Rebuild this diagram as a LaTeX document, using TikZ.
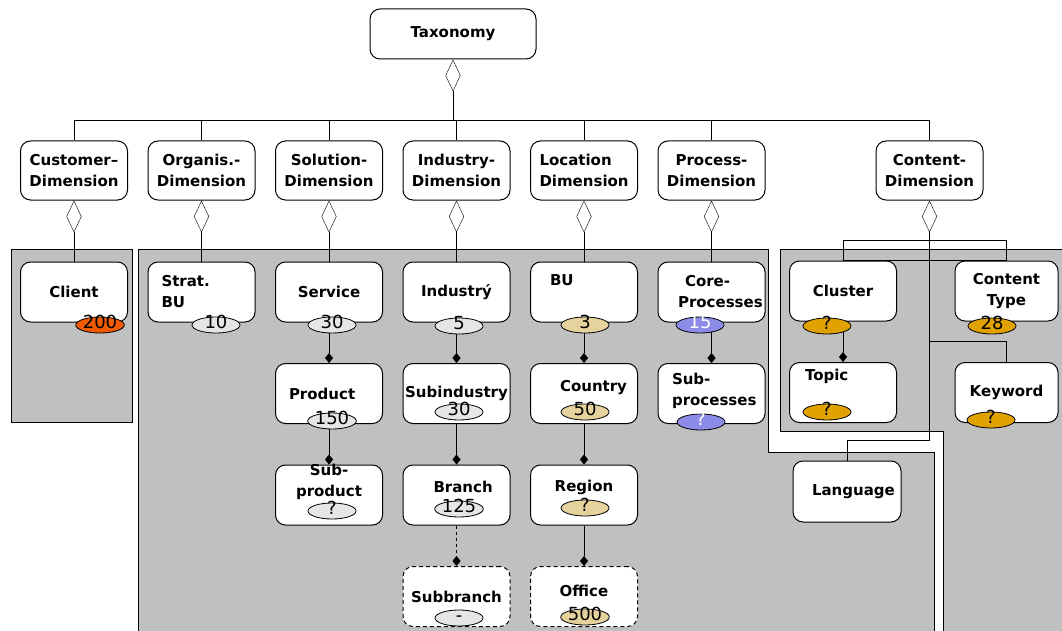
\documentclass[tikz,border=0pt]{standalone}
\usepackage{fontspec}
\setmainfont{DejaVu Sans}
\usetikzlibrary{shapes,arrows.meta}
\usetikzlibrary{positioning}
\definecolor{panelgray}{HTML}{C0C0C0}
\definecolor{cntgray}{HTML}{E6E6E6}
\definecolor{cnttan}{HTML}{E6D29C}
\definecolor{cntblue}{HTML}{8C8CE8}
\definecolor{cntgold}{HTML}{E0A200}
\definecolor{cntorange}{HTML}{F05A00}
\pgfdeclarelayer{panel}
\pgfdeclarelayer{wire}
\pgfsetlayers{panel,wire,main}
\tikzstyle{box}=[draw, fill=white, rounded corners=10pt, minimum width=107pt,
minimum height=60pt, inner sep=1pt, align=center,
font=\bfseries\fontsize{15}{21}\selectfont]
\tikzstyle{dimbox}=[box, minimum height=59pt]
\tikzstyle{vague}=[box, dash pattern=on 4pt off 3pt]
\tikzstyle{cnt}=[ellipse, draw, line width=0.8pt, minimum width=48pt, minimum height=16pt,
inner sep=0pt, text height=7pt, text depth=-7pt, font=\fontsize{18}{18}\selectfont]
\tikzstyle{agg}=[{Diamond[fill=white,length=32pt,width=15pt]}-]
\tikzstyle{comp}=[-{Diamond[length=10pt,width=8pt]}]
\tikzstyle{pane}=[draw, fill=panelgray]

\begin{document}
\begin{tikzpicture}[x=1pt, y=-1pt, line width=1pt, node distance=40.5pt]

    \useasboundingbox (0,0) rectangle (1062,631);

    \node[box, minimum width=166pt, minimum height=50pt] (taxonomy) at (453,34) {Taxonomy};

    % dimensions
    \node[dimbox] (customer) at (74,170.5) {Customer–\\Dimension};
    \node[dimbox, right=19.5pt of customer] (organis) {Organis.-\\Dimension};
    \node[dimbox, right=19.5pt of organis] (solution) {Solution-\\Dimension};
    \node[dimbox, right=19.5pt of solution] (industry) {Industry-\\Dimension};
    \node[dimbox, right=19.5pt of industry, text width=89pt, align=left] (location) {Location\\Dimension};
    \node[dimbox, right=19.5pt of location] (process) {Process-\\Dimension};
    \node[dimbox] (content) at (929.5,170.5) {Content-\\Dimension};

    % first level
    \node[box, below=61pt of customer] (client) {Client};
    \node[box, below=61pt of organis, text width=80pt, align=left] (stratbu) {Strat.\\BU};
    \node[box, below=61pt of solution] (service) {Service};
    \node[box, below=61pt of industry] (industr) {Industrý};
    \node[box, below=61pt of location, text width=68pt, align=left, text height=0pt, text depth=13pt] (bu) {BU};
    \node[box, below=61pt of process, text width=67pt, align=left] (core) {\hspace*{7pt}Core-\\\mbox{Processes}};
    \node[box] (cluster) at (843,291) {Cluster};
    \node[box, minimum width=103pt] (ctype) at (1006.5,291) {Content\\Type};

    % second level
    \node[box, below=of service, text width=80pt, align=left] (product) {Product};
    \node[box, below=of industr] (subind) {Subindustry};
    \node[box, below=of bu, text width=48pt, align=left, text height=0pt, text depth=5pt] (country) {\mbox{Country}};
    \node[box, below=of core, text width=79pt, align=left, text height=0pt, text depth=19pt] (subproc) {Sub-\\\mbox{processes}};
    \node[box, below=of cluster, text width=76pt, align=left, text height=0pt, text depth=25pt] (topic) {Topic};
    \node[box, minimum width=103pt, below=of ctype] (keyword) {Keyword};

    % third and fourth level
    \node[box, below=of product, text height=2pt, text depth=0pt] (subprod) {Sub-\\product};
    \node[box, below=of subind, text width=46pt, align=left, text height=0pt, text depth=5pt] (branch) {\mbox{Branch}};
    \node[box, below=of country, text height=0pt, text depth=7pt] (region) {Region};
    \node[box, minimum width=108pt, minimum height=61pt, text width=70pt, align=left] (language) at (847,491.5) {\mbox{Language}};
    \node[vague, below=of branch] (subbranch) {Subbranch};
    \node[vague, below=of region, text height=0pt, text depth=0pt] (office) {Office};

    % counts
    \node[cnt, fill=cntorange] (nclient) at (100,325) {200};
    \node[cnt, fill=cntgray] (nstratbu) at (216,325) {10};
    \node[cnt, fill=cntgray] (nservice) at (332,325) {30};
    \node[cnt, fill=cntgray] (nindustr) at (459,326) {5};
    \node[cnt, fill=cnttan] (nbu) at (585,325) {3};
    \node[cnt, fill=cntblue, text=white] (ncore) at (700,325) {15};
    \node[cnt, fill=cntgold] (ncluster) at (827,326) {?};
    \node[cnt, fill=cntgold] (nctype) at (992,326) {28};
    \node[cnt, fill=cntgray] (nproduct) at (332,421) {150};
    \node[cnt, fill=cntgray] (nsubind) at (459,412) {30};
    \node[cnt, fill=cnttan] (ncountry) at (585,412) {50};
    \node[cnt, fill=cntblue, text=white] (nsubproc) at (701,422) {?};
    \node[cnt, fill=cntgold] (ntopic) at (827,412) {?};
    \node[cnt, fill=cntgold] (nkeyword) at (991,420) {?};
    \node[cnt, fill=cntgray] (nsubprod) at (332,511) {?};
    \node[cnt, fill=cntgray] (nbranch) at (459,509) {125};
    \node[cnt, fill=cnttan] (nregion) at (585,508) {?};
    \node[cnt, fill=cntgray] (nsubbranch) at (459,618) {-};
    \node[cnt, fill=cnttan] (noffice) at (585,617) {500};

    \begin{pgfonlayer}{panel}
        \fill[white] (0,0) rectangle (1062,631);
        \draw[pane] (11,249) rectangle (132,422);
        \draw[pane] (138,640) |- (768,249) |- (934,452) -- (934,640);
        \draw[pane] (780,431) |- (1070,249) -- (1070,640) -- (943,640) -- (943,431) -- cycle;
    \end{pgfonlayer}

    \begin{pgfonlayer}{wire}
        \draw[agg] (taxonomy.south) -- ++(0,62);
        \draw (customer.north) -- ++(0,-20) -| (content.north);
        \foreach \d in {organis,solution,industry,location,process}
            \draw (\d.north) -- ++(0,-20);

        \draw[agg] (customer.south) -- (client.north);
        \draw[agg] (organis.south) -- (stratbu.north);
        \draw[agg] (solution.south) -- (service.north);
        \draw[agg] (industry.south) -- (industr.north);
        \draw[agg] (location.south) -- (bu.north);
        \draw[agg] (process.south) -- (core.north);

        \coordinate (cfork) at (929.5,240);
        \draw[agg] (content.south) -- (cfork);
        \draw (cfork) -| (cluster.north);
        \draw (cfork) -| (ctype.north);
        \draw (cfork) -- ++(0,101) -| (keyword.north);
        \draw (cfork) -- ++(0,200) -| (language.north);
        \draw (cluster.north) -- (ctype.north);

        \draw[comp] (service.south) -- (product.north);
        \draw[comp] (product.south) -- (subprod.north);
        \draw[comp] (industr.south) -- (subind.north);
        \draw[comp] (subind.south) -- (branch.north);
        \draw[comp, dashed] (branch.south) -- (subbranch.north);
        \draw[comp] (bu.south) -- (country.north);
        \draw[comp] (country.south) -- (region.north);
        \draw[comp] (region.south) -- (office.north);
        \draw[comp] (core.south) -- (subproc.north);
        \draw[comp] (cluster.south) -- (topic.north);
    \end{pgfonlayer}

\end{tikzpicture}
\end{document}
